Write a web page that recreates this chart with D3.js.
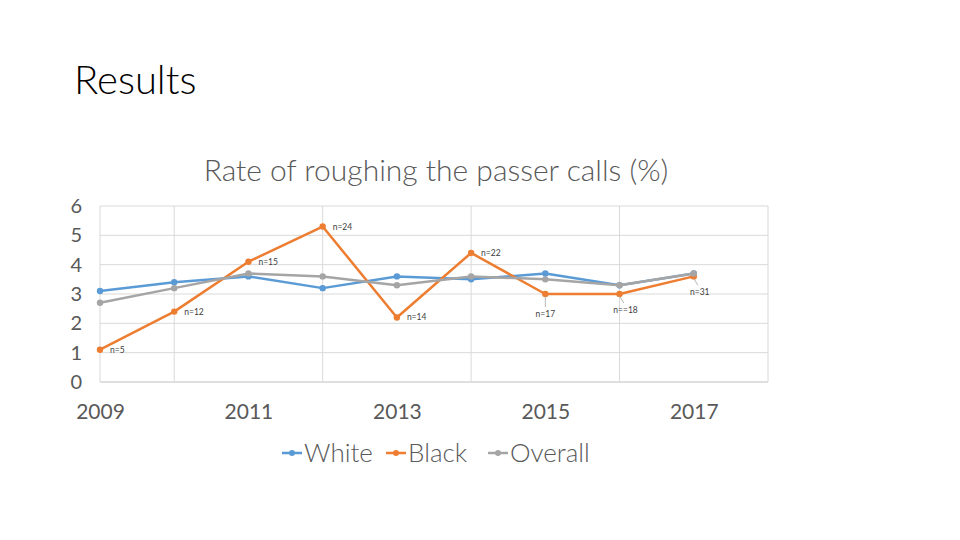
<!DOCTYPE html>
<html>
<head>
<meta charset="utf-8">
<script src="https://cdn.jsdelivr.net/npm/d3@7"></script>
<style>
  html, body { margin: 0; padding: 0; background: #fff; }
  svg { display: block; }
  text { font-family: Lato, "Open Sans", sans-serif; }
</style>
</head>
<body>
<svg id="chart" width="960" height="540"></svg>
<script>
const years = [2009, 2010, 2011, 2012, 2013, 2014, 2015, 2016, 2017];
const white = [3.1, 3.4, 3.6, 3.2, 3.6, 3.5, 3.7, 3.3, 3.7];
const black = [1.1, 2.4, 4.1, 5.3, 2.2, 4.4, 3.0, 3.0, 3.6];
const overall = [2.7, 3.2, 3.7, 3.6, 3.3, 3.6, 3.5, 3.3, 3.7];
const blackLabels = ["n=5", "n=12", "n=15", "n=24", "n=14", "n=22", "n=17", "n==18", "n=31"];
const xTickLabels = ["2009", "2011", "2013", "2015", "2017"];
const yTicks = [0, 1, 2, 3, 4, 5, 6];
const seriesNames = ["White", "Black", "Overall"];
const colors = ["#5B9BD5", "#ED7D31", "#A5A5A5"];

const svg = d3.select("#chart");
const x = d3.scaleLinear().domain([2009, 2018]).range([100, 768]);
const y = d3.scaleLinear().domain([0, 6]).range([382, 206]);

// Slide title
svg.append("text").attr("x", 74).attr("y", 94)
  .attr("font-size", 40).attr("font-weight", 300).attr("fill", "#000").text("Results");

// Chart title
svg.append("text").attr("x", 436).attr("y", 181).attr("text-anchor", "middle")
  .attr("font-size", 30).attr("font-weight", 300).attr("fill", "#595959")
  .text("Rate of roughing the passer calls (%)");

// Horizontal gridlines
const grid = svg.append("g");
grid.selectAll("line.h").data(yTicks).join("line")
  .attr("x1", x(2009)).attr("x2", x(2018))
  .attr("y1", d => y(d)).attr("y2", d => y(d))
  .attr("stroke", d => d === 0 ? "#BFBFBF" : "#D9D9D9").attr("stroke-width", 1);
// Vertical gridlines
const vYears = [2009, 2010, 2012, 2014, 2016, 2018];
grid.selectAll("line.v").data(vYears).join("line")
  .attr("x1", d => x(d)).attr("x2", d => x(d))
  .attr("y1", y(6)).attr("y2", y(0))
  .attr("stroke", "#D9D9D9").attr("stroke-width", 1);

// Y axis labels
const yAxis = d3.axisLeft(y).tickValues(yTicks).tickSize(0).tickPadding(0).tickFormat(d3.format("d"));
const yg = svg.append("g").attr("transform", "translate(82,0)").call(yAxis);
yg.select(".domain").remove();
yg.selectAll("text").attr("font-size", 20).attr("fill", "#595959").attr("font-family", "Lato, sans-serif").attr("font-weight", 400);

// X axis labels
const xAxis = d3.axisBottom(x).tickValues(xTickLabels.map(Number)).tickSize(0).tickPadding(0).tickFormat(d3.format("d"));
const xg = svg.append("g").attr("transform", "translate(0,404)").call(xAxis);
xg.select(".domain").remove();
xg.selectAll("text").attr("font-size", 21).attr("fill", "#595959").attr("font-family", "Lato, sans-serif").attr("font-weight", 400);

// Lines
const allSeries = [white, black, overall];
const line = d3.line().x((d, i) => x(years[i])).y(d => y(d));
allSeries.forEach((s, k) => {
  svg.append("path").datum(s).attr("d", line)
    .attr("fill", "none").attr("stroke", colors[k]).attr("stroke-width", 2.5)
    .attr("stroke-linejoin", "round");
  svg.append("g").selectAll("circle").data(s).join("circle")
    .attr("cx", (d, i) => x(years[i])).attr("cy", d => y(d)).attr("r", 3.2)
    .attr("fill", colors[k]);
});

// Data labels for Black series
const lab = svg.append("g");
blackLabels.forEach((t, i) => {
  const px = x(years[i]), py = y(black[i]);
  if (i < 6) {
    lab.append("text").attr("x", px + 10).attr("y", py + 3)
      .attr("font-size", 8.5).attr("fill", "#404040").text(t);
  } else {
    const dy = i === 6 ? 23 : 19;
    const dx = i === 6 ? 0 : 6;
    lab.append("line").attr("x1", px).attr("y1", py + 2).attr("x2", px + dx * 0.7).attr("y2", py + dy - 10)
      .attr("stroke", "#A5A5A5").attr("stroke-width", 0.8);
    lab.append("text").attr("x", px + dx).attr("y", py + dy).attr("text-anchor", "middle")
      .attr("font-size", 8.5).attr("fill", "#404040").text(t);
  }
});

// Legend
const legendX = [282, 386, 488];
const lg = svg.append("g");
seriesNames.forEach((n, k) => {
  const lx = legendX[k], ly = 453;
  lg.append("line").attr("x1", lx).attr("x2", lx + 20).attr("y1", ly).attr("y2", ly)
    .attr("stroke", colors[k]).attr("stroke-width", 2.5);
  lg.append("circle").attr("cx", lx + 10).attr("cy", ly).attr("r", 3).attr("fill", colors[k]);
  lg.append("text").attr("x", lx + 22).attr("y", ly + 9).attr("font-size", 26).attr("font-weight", 300)
    .attr("fill", "#595959").text(n);
});
</script>
</body>
</html>
